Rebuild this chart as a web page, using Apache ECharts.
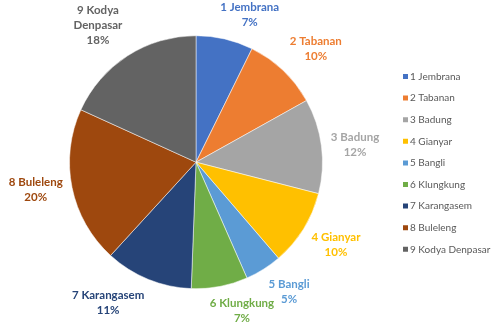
<!DOCTYPE html>
<html><head><meta charset="utf-8">
<script src="https://cdn.jsdelivr.net/npm/echarts@6/dist/echarts.min.js"></script>
<style>html,body{margin:0;padding:0;background:#fff}#c{width:498px;height:325px}</style>
</head><body><div id="c"></div>
<script>
const categories = ['1 Jembrana','2 Tabanan','3 Badung','4 Gianyar','5 Bangli','6 Klungkung','7 Karangasem','8 Buleleng','9 Kodya Denpasar'];
const labelNames = ['1 Jembrana','2 Tabanan','3 Badung','4 Gianyar','5 Bangli','6 Klungkung','7 Karangasem','8 Buleleng','9 Kodya\nDenpasar'];
const values = [7.3, 9.6, 12.1, 9.7, 4.7, 7.2, 11.2, 20.0, 18.2];
const colors = ['#4472C4','#ED7D31','#A5A5A5','#FFC000','#5B9BD5','#70AD47','#264478','#9E480E','#636363'];

const CX = 196, CY = 162.2, RAD = 126.5, ANCHOR = 136;
const total = values.reduce((a,b)=>a+b,0);
const midAngles = [];
{ let c = 0; values.forEach(v=>{ midAngles.push((c + v/2)/total*2*Math.PI); c += v; }); }
const clamp = (v)=>Math.max(0,Math.min(1,v));

const chart = echarts.init(document.getElementById('c'), null, {renderer:'canvas'});
const font = 'Lato';
chart.setOption({
  animation:false,
  legend:{
    orient:'vertical', left:396, top:65,
    icon:'rect', itemWidth:7, itemHeight:7, itemGap:8.6,
    textStyle:{fontFamily:font, fontSize:10, color:'#595959', lineHeight:13, padding:[0,0,0,-4]},
    data: categories.map((n,i)=>({name:n, itemStyle:{color:colors[i]}}))
  },
  series:[
    {
      type:'pie', center:[CX,CY], radius:[0,RAD], startAngle:90, clockwise:true,
      avoidLabelOverlap:false,
      itemStyle:{borderColor:'#fff', borderWidth:0.5},
      emphasis:{disabled:true},
      labelLine:{show:false},
      label:{show:true, position:'outside', fontFamily:font, fontSize:11.5, fontWeight:'bold', lineHeight:15, align:'center',
        formatter:p=>labelNames[p.dataIndex]+'\n'+Math.round(p.percent)+'%'},
      labelLayout:function(p){
        const t = midAngles[p.dataIndex];
        const s = Math.sin(t), c = Math.cos(t);
        const deg = t*180/Math.PI % 180;
        const dv = Math.min(deg, 180-deg);
        const dh = 90 - dv;
        const gx = Math.sign(s) * clamp(dv/17);
        const gy = Math.sign(-c) * clamp((dh-10)/30);
        const w = p.labelRect.width, h = p.labelRect.height;
        return {
          x: CX + ANCHOR*s + gx*w/2,
          y: CY - ANCHOR*c + gy*h/2,
          align:'center', verticalAlign:'middle'
        };
      },
      data: categories.map((n,i)=>({name:n, value:values[i], itemStyle:{color:colors[i]}, label:{color:colors[i]}}))
    }
  ]
});
</script></body></html>
